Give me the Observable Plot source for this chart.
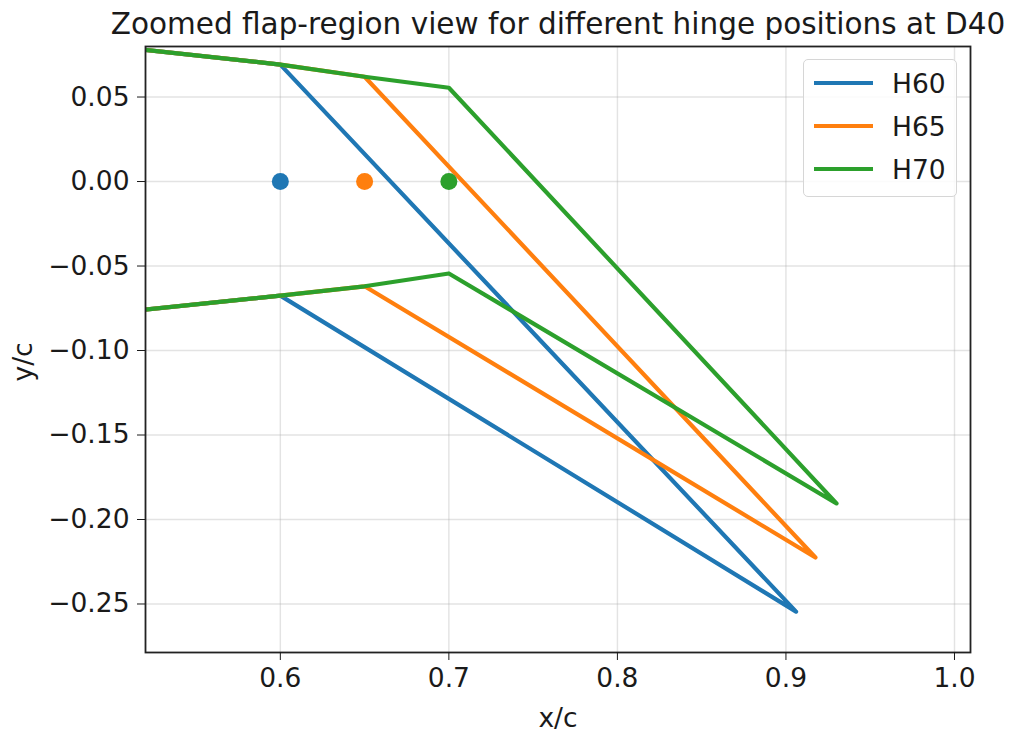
<!DOCTYPE html>
<html>
<head>
<meta charset="utf-8">
<script src="https://cdn.jsdelivr.net/npm/d3@7"></script>
<script src="https://cdn.jsdelivr.net/npm/@observablehq/plot@0.6"></script>
<style>
  html, body { margin: 0; padding: 0; background: #fff; }
  #wrap { position: relative; width: 1011px; height: 738px; font-family: "DejaVu Sans", sans-serif; }
  #legend { position: absolute; left: 803px; top: 59px; width: 154px; height: 138px;
            border: 1px solid #d6d6d6; border-radius: 5px; background: rgba(255,255,255,0.85);
            box-sizing: border-box; }
  .row { position: absolute; left: 0; height: 30px; display: flex; align-items: center; }
  .row span { font-size: 26.5px; color: #1a1a1a; margin-left: 8px; }
</style>
</head>
<body>
<div id="wrap"><div id="legend"></div></div>
<script>
const title = "Zoomed flap-region view for different hinge positions at D40";
const hinges = ["H60", "H65", "H70"];
const colors = ["#1f77b4", "#ff7f0e", "#2ca02c"];
const hingeX = [0.60, 0.65, 0.70];
const teX = [0.906, 0.9175, 0.930];
const teY = [-0.2545, -0.2225, -0.1905];
const upperX = [0.50, 0.60, 0.65, 0.70];
const upperY = [0.0801, 0.0692, 0.0620, 0.0555];
const lowerY = [-0.0778, -0.0675, -0.0620, -0.0544];
const xTicks = [0.6, 0.7, 0.8, 0.9, 1.0];
const yTicks = [-0.25, -0.20, -0.15, -0.10, -0.05, 0.00, 0.05];

// build outline per hinge: upper surface -> TE -> lower surface back
const outline = [];
hinges.forEach((h, i) => {
  const idx = upperX.map((x, j) => j).filter(j => upperX[j] <= hingeX[i] + 1e-9);
  idx.forEach(j => outline.push({series: h, x: upperX[j], y: upperY[j]}));
  outline.push({series: h, x: teX[i], y: teY[i]});
  idx.slice().reverse().forEach(j => outline.push({series: h, x: upperX[j], y: lowerY[j]}));
});
const hingePts = hinges.map((h, i) => ({series: h, x: hingeX[i], y: 0}));

const fs = 26.5;
const chart = Plot.plot({
  width: 1011,
  height: 738,
  marginLeft: 145,
  marginRight: 41,
  marginTop: 46,
  marginBottom: 86,
  style: {fontFamily: "DejaVu Sans, sans-serif", background: "white", color: "#1a1a1a"},
  x: {domain: [0.52, 1.0095]},
  y: {domain: [-0.2787, 0.0799]},
  color: {domain: hinges, range: colors},
  marks: [
    Plot.gridX(xTicks, {stroke: "#b0b0b0", strokeOpacity: 0.35, strokeWidth: 1.4}),
    Plot.gridY(yTicks, {stroke: "#b0b0b0", strokeOpacity: 0.35, strokeWidth: 1.4}),
    Plot.line(outline, {x: "x", y: "y", z: "series", stroke: "series", strokeWidth: 4.2, clip: true}),
    Plot.dot(hingePts, {x: "x", y: "y", fill: "series", r: 8.5}),
    Plot.frame({stroke: "#222", strokeWidth: 1.8}),
    Plot.axisX(xTicks, {tickFormat: d3.format(".1f"), tickSize: 8, tickPadding: 8, fontSize: fs, label: null}),
    Plot.axisY(yTicks, {tickFormat: d3.format(".2f"), tickSize: 8, tickPadding: 8, fontSize: fs, label: null}),
    Plot.text([title], {frameAnchor: "top", dy: -33, fontSize: 29.5}),
    Plot.text(["x/c"], {frameAnchor: "bottom", dy: 74, fontSize: fs}),
    Plot.text(["y/c"], {frameAnchor: "left", dx: -122, dy: 32, rotate: -90, fontSize: fs})
  ]
});
document.getElementById("wrap").prepend(chart);

const legend = document.getElementById("legend");
hinges.forEach((h, i) => {
  const row = document.createElement("div");
  row.className = "row";
  row.style.top = (8 + i * 43) + "px";
  row.innerHTML = `<svg width="80" height="30"><line x1="10" x2="69" y1="15" y2="15" stroke="${colors[i]}" stroke-width="4.2"/></svg><span>${h}</span>`;
  legend.appendChild(row);
});
</script>
</body>
</html>
